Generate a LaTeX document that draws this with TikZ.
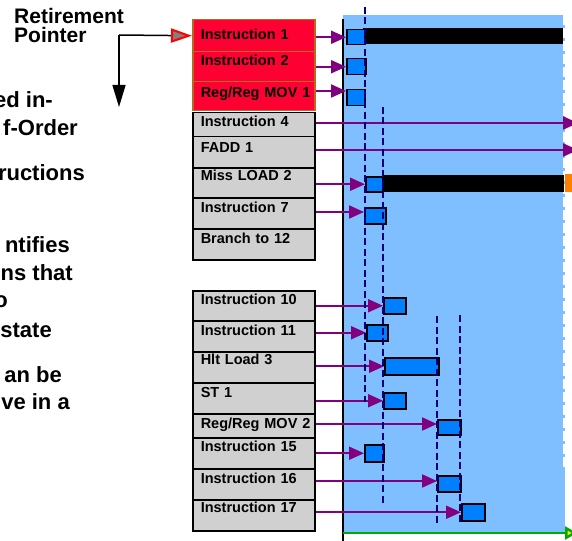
\documentclass[tikz,border=0pt]{standalone}
\usepackage{fontspec}
\setmainfont{Liberation Sans}
\usetikzlibrary{arrows.meta}
\definecolor{regred}{RGB}{255,0,51}
\definecolor{regedge}{RGB}{184,104,32}
\definecolor{cellgray}{RGB}{208,208,208}
\definecolor{pipeblue}{RGB}{128,191,255}
\definecolor{opblue}{RGB}{0,128,255}
\definecolor{flowpurple}{RGB}{128,0,128}
\definecolor{clocknavy}{RGB}{0,0,128}
\definecolor{missorange}{RGB}{255,128,0}
\definecolor{timegreen}{RGB}{0,170,0}
\begin{document}
\begin{tikzpicture}[x=1pt, y=-1pt,
  cell/.style={draw, line width=1.5pt, anchor=north west, inner xsep=0pt, inner ysep=0pt,
    text width=122pt, align=left, text height=15pt, execute at begin node=\hspace*{8pt},
    font=\bfseries\fontsize{14.5}{16}\selectfont},
  redcell/.style={cell, fill=regred, draw=regedge},
  graycell/.style={cell, fill=cellgray},
  op/.style={draw, line width=1.5pt, fill=opblue, anchor=north west, inner sep=0pt},
  flow/.style={draw=flowpurple, line width=2pt, -{Triangle[length=15pt,width=13pt]}},
  clockline/.style={clocknavy, line width=2pt, dash pattern=on 7pt off 3.5pt},
  note/.style={anchor=base east, inner sep=0pt, font=\bfseries\fontsize{22}{26}\selectfont},
  heading/.style={anchor=base west, inner sep=0pt, font=\bfseries\fontsize{21}{24}\selectfont}]
\useasboundingbox (0,0) rectangle (572,540);

\fill [pipeblue] (343,15) rectangle (565,533);
\draw [white, line width=1.5pt, dash pattern=on 10pt off 3pt] (564,15) -- (564,470);
\fill [black] (363,28) rectangle (563,44);
\fill [black] (382,175) rectangle (564,192);
\fill [missorange] (565,174) rectangle (572,192);
\draw [line width=2pt] (343,19) -- (343,545);

\coordinate (tstart) at (343,533);
\coordinate (tend) at (577,533);
\draw [timegreen, line width=2.5pt, -{Triangle[length=12pt,width=13pt,fill=yellow,color=timegreen]}] (tstart) -- (tend);

\node [redcell, text height=20pt, text depth=12pt] (ins1) at (192,19) {Instruction 1};
\node [redcell, text height=14pt, text depth=16pt] (ins2) at (192,51) {Instruction 2};
\node [redcell, text height=16pt, text depth=13pt] (mov1) at (192,81) {Reg/Reg MOV 1};
\node [graycell, text height=14pt, text depth=10pt] (ins4) at (192,112) {Instruction 4};
\node [graycell, text height=16pt, text depth=15pt] (fadd1) at (192,136) {FADD 1};
\node [graycell, text height=13pt, text depth=17pt] (load2) at (192,167) {Miss LOAD 2};
\node [graycell, text depth=16pt] (ins7) at (192,197) {Instruction 7};
\node [graycell, text depth=16pt] (br12) at (192,228) {Branch to 12};
\node [graycell, text height=14pt, text depth=16pt] (ins10) at (192,290) {Instruction 10};
\node [graycell, text depth=16pt] (ins11) at (192,320) {Instruction 11};
\node [graycell, text height=13pt, text depth=18pt] (load3) at (192,351) {Hlt Load 3};
\node [graycell, text depth=16pt] (st1) at (192,382) {ST 1};
\node [graycell, text depth=9pt] (mov2) at (192,413) {Reg/Reg MOV 2};
\node [graycell, text height=14pt, text depth=17pt] (ins15) at (192,437) {Instruction 15};
\node [graycell, text depth=16pt] (ins16) at (192,468) {Instruction 16};
\node [graycell, text height=13pt, text depth=18pt] (ins17) at (192,499) {Instruction 17};

\node [op, minimum width=18, minimum height=15] (op1) at (346,29) {};
\node [op, minimum width=19, minimum height=16] (op2) at (346,58) {};
\node [op, minimum width=18, minimum height=16] (opmov1) at (346,89) {};
\node [op, minimum width=17, minimum height=15] (opload2) at (365,176) {};
\node [op, minimum width=21, minimum height=16] (op7) at (364,207) {};
\node [op, minimum width=22, minimum height=16] (op10) at (383,297) {};
\node [op, minimum width=21, minimum height=16] (op11) at (366,324) {};
\node [op, minimum width=54, minimum height=17] (opload3) at (384,357) {};
\node [op, minimum width=22, minimum height=16] (opst1) at (383,392) {};
\node [op, minimum width=23, minimum height=15] (opmov2) at (437,419) {};
\node [op, minimum width=19, minimum height=17] (op15) at (364,444) {};
\node [op, minimum width=23, minimum height=16] (op16) at (437,475) {};
\node [op, minimum width=23, minimum height=17] (op17) at (461,503) {};

\coordinate (exit4) at (578,123);
\coordinate (exit5) at (578,150);
\draw [flow] (ins1.east |- op1.west) -- (op1.west);
\draw [flow] (ins2.east |- op2.west) -- (op2.west);
\draw [flow] (mov1.east |- 0,91) -- (opmov1.west |- 0,91);
\draw [flow] (ins4.east |- exit4) -- (exit4);
\draw [flow] (fadd1.east |- exit5) -- (exit5);
\draw [flow] (load2.east |- opload2.west) -- (opload2.west);
\draw [flow] (ins7.east |- 0,212) -- (op7.west |- 0,212);
\draw [flow] (ins10.east |- op10.west) -- (op10.west);
\draw [flow] (ins11.east |- op11.west) -- (op11.west);
\draw [flow] (load3.east |- opload3.west) -- (opload3.west);
\draw [flow] (st1.east |- opst1.west) -- (opst1.west);
\draw [flow] (mov2.east |- 0,424) -- (opmov2.west |- 0,424);
\draw [flow] (ins15.east |- op15.west) -- (op15.west);
\draw [flow] (ins16.east |- 0,481) -- (op16.west |- 0,481);
\draw [flow] (ins17.east |- op17.west) -- (op17.west);

\draw [clockline] (364.5,7) -- (364.5,402);
\draw [clockline] (382.5,107) -- (382.5,503);
\draw [clockline] (437,316) -- (437,525);
\draw [clockline] (460,315) -- (460,525);

\node [heading] (retire) at (14,24) {Retirement};
\node [heading] (pointer) at (14,43) {Pointer};
\coordinate (rpbend) at (119,35);
\coordinate (rpend) at (119,107);
\draw [line width=1.5pt, -{Triangle[length=21pt,width=14pt,color=red,fill=gray,line width=2pt]}] (rpbend) -- (ins1.west);
\draw [line width=1.5pt, -{Triangle[length=22pt,width=13pt]}] (rpbend) -- (rpend);

\node [note] (t1) at (53,108) {ed in-};
\node [note] (t2) at (78,136) {f-Order};
\node [note] (t3) at (85,180) {ructions};
\node [note] (t4) at (70,252) {ntifies};
\node [note] (t5) at (73,280) {ns that};
\node [note] (t6) at (8,307) {o};
\node [note] (t7) at (52,337) {state};
\node [note] (t8) at (62,382) {an be};
\node [note] (t9) at (70,409) {ve in a};
\end{tikzpicture}
\end{document}
